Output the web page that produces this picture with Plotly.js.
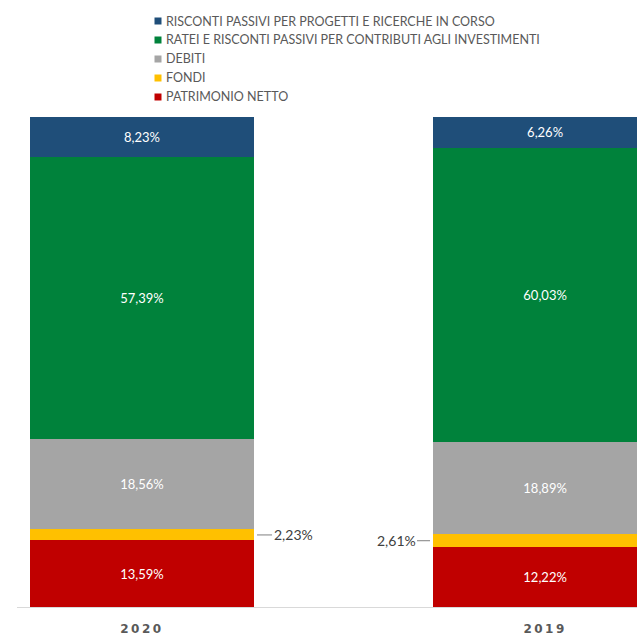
<!DOCTYPE html>
<html>
<head>
<meta charset="utf-8">
<script src="https://cdn.plot.ly/plotly-3.0.1.min.js"></script>
<style>
html,body{margin:0;padding:0;background:#fff;overflow:hidden;}
#chart{width:637px;height:635px;}
.xtick text{letter-spacing:2.5px;}
</style>
</head>
<body>
<div id="chart"></div>
<script>
// ---- data ----
const years = ['2020', '2019'];
const seriesNames = [
  'PATRIMONIO NETTO',
  'FONDI',
  'DEBITI',
  'RATEI E RISCONTI PASSIVI PER CONTRIBUTI AGLI INVESTIMENTI',
  'RISCONTI PASSIVI PER PROGETTI E RICERCHE IN CORSO'
];
const patrimonioNetto = [13.59, 12.22];
const fondi = [2.23, 2.61];
const debiti = [18.56, 18.89];
const rateiRisconti = [57.39, 60.03];
const riscontiProgetti = [8.23, 6.26];
const seriesColors = ['#C00000', '#FFC000', '#A5A5A5', '#00823B', '#1F4E79'];

// ---- build ----
const seriesValues = [patrimonioNetto, fondi, debiti, rateiRisconti, riscontiProgetti];
const fmt = v => v.toFixed(2).replace('.', ',') + '%';
const barWidth = 0.556;
const labelFont = {family: 'Lato, "Open Sans", sans-serif', size: 13, color: '#ffffff'};

const traces = seriesValues.map((vals, i) => ({
  type: 'bar',
  name: seriesNames[i],
  x: years,
  y: vals,
  width: vals.map(() => barWidth),
  marker: {color: seriesColors[i], line: {width: 0}},
  text: i === 1 ? vals.map(() => '') : vals.map(fmt),
  textposition: i === 1 ? 'none' : 'inside',
  insidetextanchor: 'middle',
  textangle: 0,
  textfont: labelFont,
  showlegend: false,
  hoverinfo: 'skip'
}));

// outside labels for FONDI with leader lines
const annotations = [];
fondi.forEach((v, j) => {
  const left = j === 1;
  annotations.push({
    x: j + (left ? -barWidth / 2 : barWidth / 2),
    y: patrimonioNetto[j] + v / 2,
    xref: 'x', yref: 'y',
    text: fmt(v),
    showarrow: true,
    arrowhead: 0,
    arrowwidth: 1,
    arrowcolor: '#7f7f7f',
    standoff: 3,
    ax: left ? -37 : 39,
    ay: 0,
    xanchor: 'center',
    font: {family: 'Lato, "Open Sans", sans-serif', size: 14, color: '#404040'}
  });
});

// manual legend (top to bottom: reverse of stack order)
const shapes = [];
const legendOrder = [4, 3, 2, 1, 0];
const plotLeft = 17, plotW = 620, plotBottom = 607, plotH = 490;
legendOrder.forEach((si, k) => {
  const py = 21 + k * 19;
  const yp = (plotBottom - py) / plotH;
  shapes.push({
    type: 'rect', xref: 'paper', yref: 'paper',
    xsizemode: 'pixel', ysizemode: 'pixel',
    xanchor: (158 - plotLeft) / plotW, yanchor: yp,
    x0: -3.5, x1: 3.5, y0: -3.5, y1: 3.5,
    fillcolor: seriesColors[si], line: {width: 0}
  });
  annotations.push({
    xref: 'paper', yref: 'paper',
    x: (164 - plotLeft) / plotW, y: yp,
    xanchor: 'left', yanchor: 'middle',
    text: seriesNames[si],
    showarrow: false,
    font: {family: 'Lato, "Open Sans", sans-serif', size: 12.5, color: '#595959'}
  });
});

const layout = {
  width: 637, height: 635,
  margin: {l: 17, r: 0, t: 117, b: 28, pad: 0},
  paper_bgcolor: '#ffffff', plot_bgcolor: '#ffffff',
  barmode: 'stack',
  showlegend: false,
  xaxis: {
    type: 'category',
    range: [-0.31, 1.228],
    showline: true, linecolor: '#d9d9d9', linewidth: 1,
    showgrid: false, zeroline: false,
    ticks: '', ticklabelstandoff: 11,
    tickfont: {family: '"DejaVu Sans", sans-serif', size: 12, color: '#595959', weight: 'bold'}
  },
  yaxis: {
    range: [0, 100],
    showgrid: false, zeroline: false, showticklabels: false, showline: false, ticks: ''
  },
  annotations: annotations,
  shapes: shapes
};

Plotly.newPlot('chart', traces, layout, {displayModeBar: false, staticPlot: true});
</script>
</body>
</html>
